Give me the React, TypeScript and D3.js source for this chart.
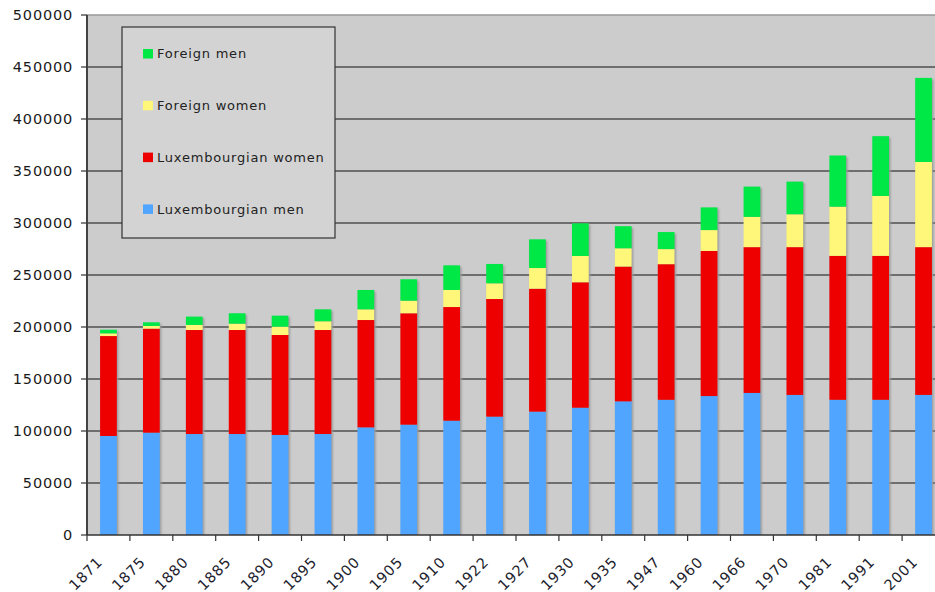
import React from "react";
import * as d3 from "d3";

// Census years shown on the category axis
const years: string[] = [
  "1871", "1875", "1880", "1885", "1890", "1895", "1900", "1905", "1910", "1922",
  "1927", "1930", "1935", "1947", "1960", "1966", "1970", "1981", "1991", "2001",
];

// Resident population by group (stacked bottom to top)
const luxembourgianMen: number[] = [
  95200, 98400, 97100, 97100, 96200, 97100, 103500, 106100, 109900, 113800,
  118600, 122400, 128500, 130000, 133600, 136600, 134700, 130000, 130000, 134700,
];
const luxembourgianWomen: number[] = [
  96100, 100000, 100000, 100000, 96100, 100000, 103200, 107100, 109300, 113100,
  118200, 120600, 129600, 130400, 139500, 140200, 142100, 138400, 138400, 142100,
];
const foreignWomen: number[] = [
  2600, 2600, 4900, 6100, 8000, 8400, 10300, 12100, 16400, 15100,
  19900, 25300, 17600, 14500, 20100, 29100, 31600, 47300, 57600, 81900,
];
const foreignMen: number[] = [
  3500, 3500, 8000, 10000, 10600, 11500, 18600, 20600, 23700, 18600,
  27600, 31400, 21200, 16400, 21800, 29100, 31400, 49200, 57500, 80800,
];

const seriesKeys = ["lm", "lw", "fw", "fm"] as const;
const seriesNames: Record<string, string> = {
  lm: "Luxembourgian men",
  lw: "Luxembourgian women",
  fw: "Foreign women",
  fm: "Foreign men",
};
const seriesColors: Record<string, string> = {
  lm: "#4fa5ff",
  lw: "#ee0000",
  fw: "#fff77a",
  fm: "#00e846",
};
// Legend lists the series top-down, matching the stack order
const legendOrder = ["fm", "fw", "lw", "lm"];

const yTicks: number[] = [0, 50000, 100000, 150000, 200000, 250000, 300000, 350000, 400000, 450000, 500000];

const W = 935;
const H = 592;
const plotLeft = 87;
const plotTop = 15;
const plotBottom = 535;
const step = 42.9;
const plotRight = plotLeft + step * years.length;

const FONT = "'DejaVu Sans', Verdana, sans-serif";

export default function App() {
  const rows = years.map((y, i) => ({
    year: y,
    lm: luxembourgianMen[i],
    lw: luxembourgianWomen[i],
    fw: foreignWomen[i],
    fm: foreignMen[i],
  }));

  const stacked = d3.stack<any>().keys(seriesKeys as unknown as string[])(rows);

  const x = d3.scaleBand<string>().domain(years).range([plotLeft, plotRight]).padding(0);
  const y = d3.scaleLinear().domain([0, 500000]).range([plotBottom, plotTop]);

  const bw = x.bandwidth() * 0.39;
  const barX = (yr: string) => (x(yr) as number) + (x.bandwidth() - bw) / 2;

  return (
    <svg
      width={W}
      height={H}
      style={{ position: "absolute", left: 0, top: 0, background: "#ffffff" }}
      fontFamily={FONT}
    >
      <defs>
        <filter id="barShadow" x="-20%" y="-5%" width="150%" height="110%">
          <feGaussianBlur stdDeviation="0.8" />
        </filter>
        <clipPath id="plotClip">
          <rect x={plotLeft} y={plotTop} width={plotRight - plotLeft} height={plotBottom - plotTop} />
        </clipPath>
      </defs>

      {/* plot background */}
      <rect x={plotLeft} y={plotTop} width={plotRight - plotLeft} height={plotBottom - plotTop} fill="#cccccc" />

      {/* horizontal gridlines */}
      {yTicks
        .filter((t) => t > 0 && t < 500000)
        .map((t) => (
          <line key={t} x1={plotLeft} x2={plotRight} y1={y(t)} y2={y(t)} stroke="#111111" strokeWidth={1.2} />
        ))}
      <line x1={plotLeft} x2={plotRight} y1={y(500000)} y2={y(500000)} stroke="#999999" strokeWidth={1.5} />

      {/* bar shadows */}
      <g clipPath="url(#plotClip)" filter="url(#barShadow)">
        {rows.map((r) => {
          const top = stacked[stacked.length - 1].find((d: any) => d.data.year === r.year) as any;
          return (
            <rect
              key={r.year}
              x={barX(r.year) + 1.5}
              y={y(top[1]) + 1.5}
              width={bw}
              height={y(0) - y(top[1])}
              fill="#9a9a9a"
            />
          );
        })}
      </g>

      {/* stacked bars */}
      {stacked.map((s) => (
        <g key={s.key} fill={seriesColors[s.key]}>
          {s.map((d: any) => (
            <rect
              key={d.data.year}
              x={barX(d.data.year)}
              y={y(d[1])}
              width={bw}
              height={y(d[0]) - y(d[1])}
            />
          ))}
        </g>
      ))}

      {/* legend */}
      <g>
        <rect x={122} y={27} width={213} height={211} fill="#d3d3d3" stroke="#333333" strokeWidth={1.2} />
        {legendOrder.map((k, i) => (
          <g key={k} transform={`translate(143, ${49 + i * 51.8})`}>
            <rect x={0} y={0} width={10} height={9.5} fill={seriesColors[k]} />
            <text x={14} y={9.3} fontSize={13} letterSpacing={0.8} fill="#222222">
              {seriesNames[k]}
            </text>
          </g>
        ))}
      </g>

      {/* y axis */}
      <line x1={plotLeft} x2={plotLeft} y1={plotTop} y2={plotBottom} stroke="#444444" strokeWidth={2} />
      {yTicks.map((t) => (
        <g key={t}>
          <line x1={plotLeft - 6} x2={plotLeft} y1={y(t)} y2={y(t)} stroke="#333333" strokeWidth={1.2} />
          <text
            x={plotLeft - 14}
            y={y(t)}
            dy="0.36em"
            textAnchor="end"
            fontSize={14.5}
            letterSpacing={0.8}
            fill="#1a1a1a"
          >
            {t}
          </text>
        </g>
      ))}

      {/* x axis */}
      <line x1={plotLeft} x2={plotRight} y1={plotBottom} y2={plotBottom} stroke="#333333" strokeWidth={1.5} />
      {years.map((yr) => (
        <line
          key={"t" + yr}
          x1={x(yr) as number}
          x2={x(yr) as number}
          y1={plotBottom}
          y2={plotBottom + 6}
          stroke="#333333"
          strokeWidth={1.2}
        />
      ))}
      {years.map((yr) => {
        const cx = (x(yr) as number) + x.bandwidth() / 2 - 5;
        const cy = 563;
        return (
          <text
            key={"l" + yr}
            x={cx}
            y={cy}
            textAnchor="end"
            fontSize={14.5}
            letterSpacing={0.8}
            fill="#1e1e2e"
            transform={`rotate(-45, ${cx}, ${cy})`}
          >
            {yr}
          </text>
        );
      })}
    </svg>
  );
}
